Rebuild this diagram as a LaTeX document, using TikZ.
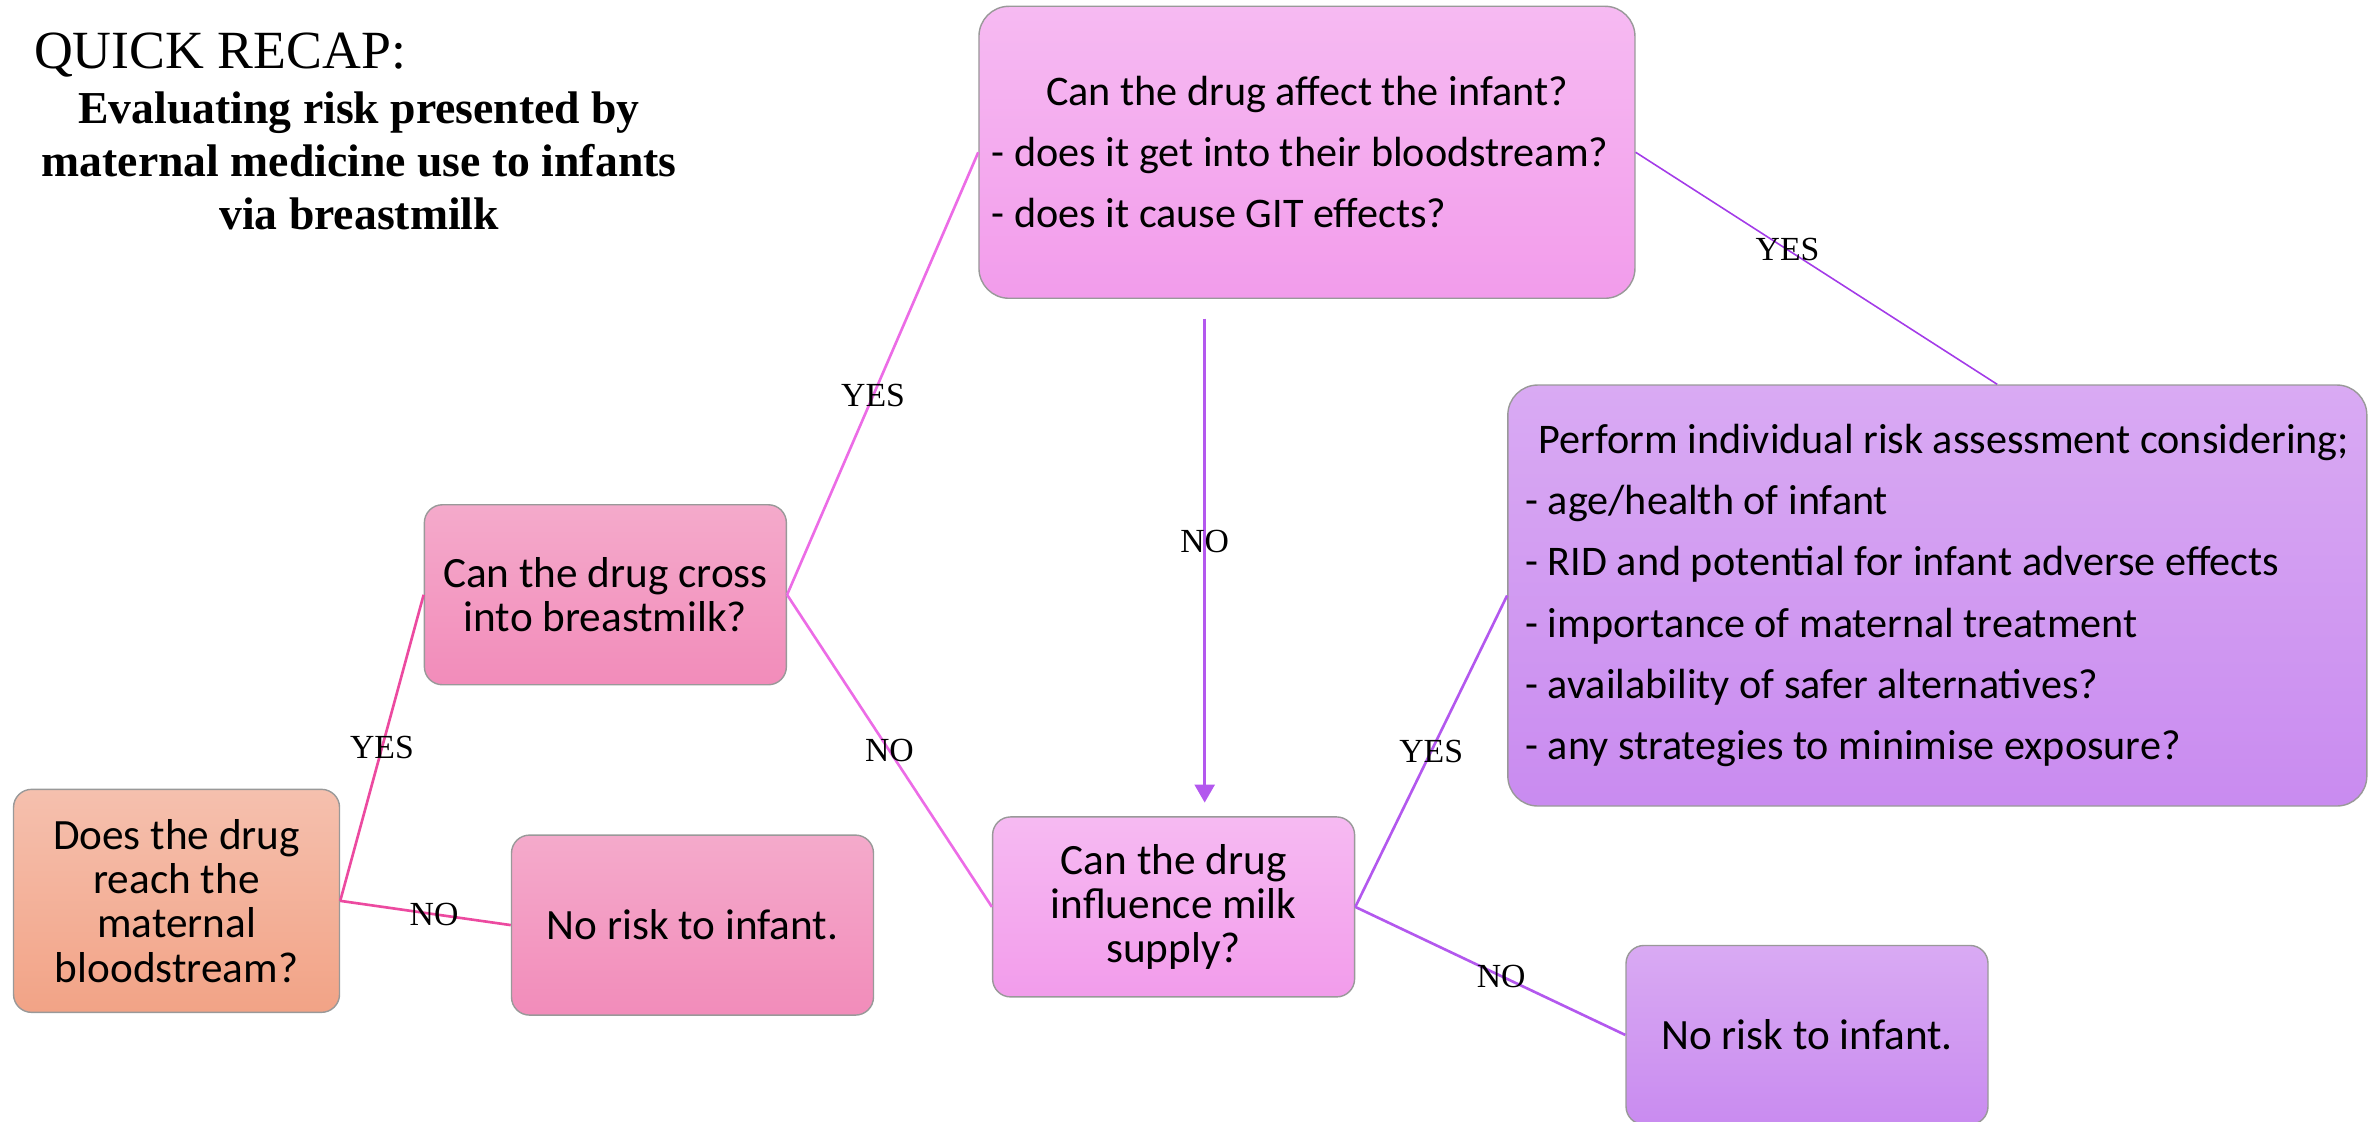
\documentclass[tikz,border=0pt]{standalone}
\usepackage{fontspec}
\setmainfont{Liberation Serif}
\newfontfamily\gill{Carlito}
\usetikzlibrary{positioning,arrows.meta,calc}

\definecolor{peachtop}{HTML}{F5C0AE}
\definecolor{peachbot}{HTML}{F2A386}
\definecolor{rosetop}{HTML}{F4AACB}
\definecolor{rosebot}{HTML}{F28CBA}
\definecolor{orchidtop}{HTML}{F6BAF2}
\definecolor{orchidbot}{HTML}{F29CEB}
\definecolor{lilactop}{HTML}{D9AAF3}
\definecolor{lilacbot}{HTML}{C98BF0}
\definecolor{pinkline}{HTML}{EC4AA0}
\definecolor{orchidline}{HTML}{EC6CE6}
\definecolor{purpline}{HTML}{B358EE}
\definecolor{violetline}{HTML}{A33BE8}

\begin{document}
\begin{tikzpicture}
    [x=0.15153mm,y=-0.15153mm,>={Triangle[width=2mm,length=1.8mm]},
     qbox/.style={draw=gray!80,line width=0.4pt,rounded corners=1.8mm,align=center,inner sep=0pt,
                  font=\gill\fontsize{12.3}{12.6}\selectfont,minimum width=36.2mm,minimum height=18mm},
     listbox/.style={qbox,rounded corners=3mm,align=left,font=\gill\fontsize{12}{17.4}\selectfont},
     rose/.style={top color=rosetop,bottom color=rosebot},
     orchid/.style={top color=orchidtop,bottom color=orchidbot},
     lilac/.style={top color=lilactop,bottom color=lilacbot},
     ans/.style={text=black,font=\fontsize{9.6}{10}\selectfont,inner sep=0pt},
     link/.style={line width=0.75pt}]

    \useasboundingbox (0,0) rectangle (1568,740);

    \node[anchor=base west,inner sep=0pt,font=\fontsize{15.3}{18}\selectfont] (recap) at (22,45) {QUICK RECAP:};
    \node[align=center,inner sep=0pt,font=\bfseries\fontsize{13}{15.1}\selectfont] (aim) at (237,106)
        {Evaluating risk presented by\\maternal medicine use to infants\\via breastmilk};

    \node[qbox,top color=peachtop,bottom color=peachbot,minimum width=32.6mm,minimum height=22.3mm] (reach)
        at (116.5,594.5) {Does the drug\\reach the\\maternal\\bloodstream?};
    \node[qbox,rose] (cross) at (399.5,392.5) {Can the drug cross\\into breastmilk?};
    \node[qbox,rose] (safe1) at (457,610.5) {No risk to infant.};
    \node[listbox,orchid,minimum width=65.6mm,minimum height=29.2mm] (affect)
        at (862.5,100.5) {\makebox[63mm]{Can the drug affect the infant?}\\
                          - does it get into their bloodstream?\\
                          - does it cause GIT effects?};
    \node[qbox,orchid] (supply) at (774.5,598.5) {Can the drug\\influence milk\\supply?};
    \node[listbox,lilac,minimum width=85.9mm,minimum height=42.1mm] (assess)
        at (1278.5,393) {\hspace*{1.3mm}Perform individual risk assessment considering;\\
                         - age/health of infant\\
                         - RID and potential for infant adverse effects\\
                         - importance of maternal treatment\\
                         - availability of safer alternatives?\\
                         - any strategies to minimise exposure?};
    \node[qbox,lilac,minimum height=17.9mm] (safe2) at (1192.5,683) {No risk to infant.};

    \draw[link,pinkline] (reach.east) -- (cross.west) node[ans,pos=0.5] {YES};
    \draw[link,pinkline] (reach.east) -- (safe1.west) node[ans,pos=0.55] {NO};
    \draw[link,orchidline] (cross.east) -- (affect.west) node[ans,pos=0.45] {YES};
    \draw[link,orchidline] (cross.east) -- (supply.west) node[ans,pos=0.5] {NO};

    \coordinate (drop) at ($(supply.north)+(20.5,-9)$);
    \draw[link,purpline,->] ($(affect.south -| drop)+(0,13)$) -- (drop) node[ans,pos=0.46] {NO};
    \draw[line width=0.45pt,violetline] (affect.east) -- ($(assess.north)+(39.5,0)$) node[ans,pos=0.42] {YES};
    \draw[link,purpline] (supply.east) -- (assess.west) node[ans,pos=0.5] {YES};
    \draw[link,purpline] (supply.east) -- (safe2.west) node[ans,pos=0.54] {NO};
\end{tikzpicture}
\end{document}
